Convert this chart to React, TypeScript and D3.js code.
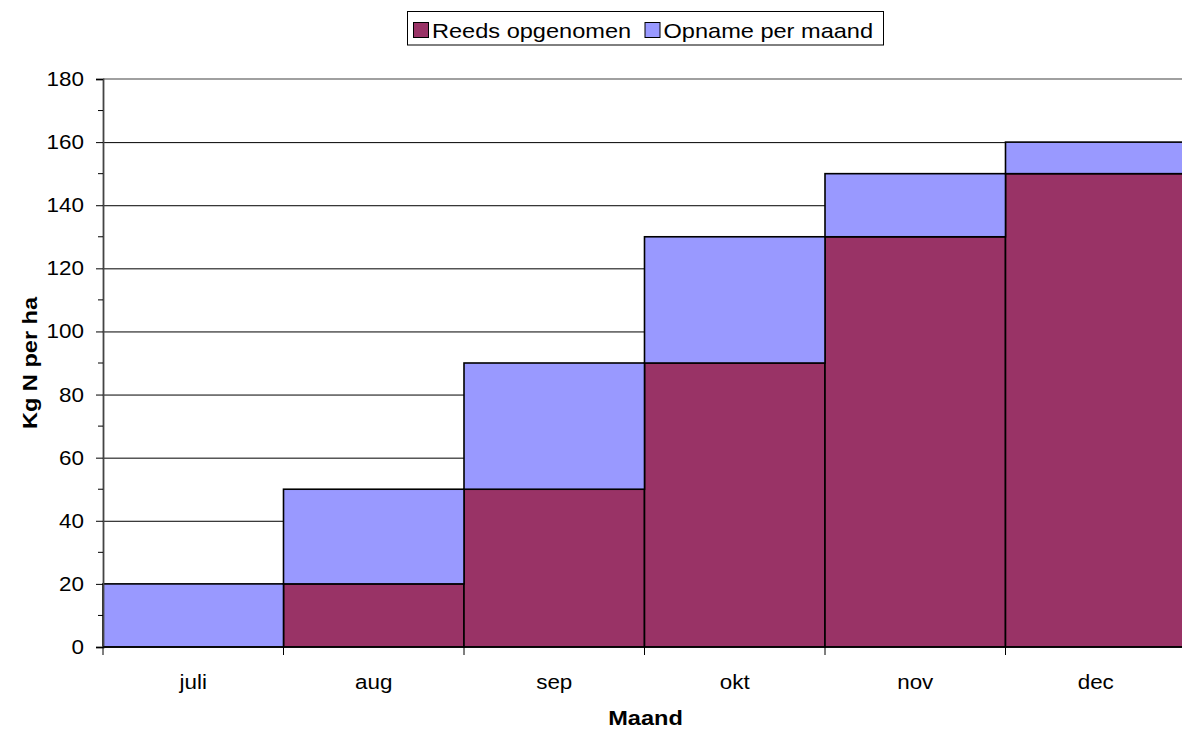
import * as d3 from "d3";
import { useRef, useEffect } from "react";

const months: string[] = ["juli", "aug", "sep", "okt", "nov", "dec"];
const reedsOpgenomen: number[] = [0, 20, 50, 90, 130, 150];
const opnamePerMaand: number[] = [20, 30, 40, 40, 20, 10];
const seriesNames: string[] = ["Reeds opgenomen", "Opname per maand"];
const yTicks: number[] = [0, 20, 40, 60, 80, 100, 120, 140, 160, 180];
const yMinorTicks: number[] = [10, 30, 50, 70, 90, 110, 130, 150, 170];
const colors: string[] = ["#993366", "#9999FF"];

export default function App() {
  const svgRef: any = useRef();

  useEffect(() => {
    const w = 1182;
    const h = 731;
    const left = 103;
    const right = 1186;
    const top = 79;
    const bottom = 647;
    const font = "'Liberation Sans', Arial, sans-serif";
    const sx = 1.15; // text looks stretched horizontally in the original

    const svg = d3.select(svgRef.current);
    svg.selectAll("*").remove();
    svg.attr("width", w).attr("height", h).style("background", "#fff");

    const x = d3.scaleBand().domain(months).range([left, right]).padding(0);
    const y = d3.scaleLinear().domain([0, 180]).range([bottom, top]);

    const label = (px: number, py: number, txt: string, size: number, anchor: string, extra = "") =>
      svg
        .append("text")
        .attr("transform", `translate(${px},${py}) ${extra} scale(${sx},1)`)
        .attr("text-anchor", anchor)
        .style("font-family", font)
        .style("font-size", size + "px")
        .attr("fill", "#000")
        .text(txt);

    // gridlines
    svg
      .append("g")
      .selectAll("line")
      .data(yTicks.filter((t) => t > 0 && t < 180))
      .join("line")
      .attr("x1", left)
      .attr("x2", right)
      .attr("y1", (d) => y(d) + 0.5)
      .attr("y2", (d) => y(d) + 0.5)
      .attr("stroke", "#000")
      .attr("stroke-width", 1);

    // plot area top border
    svg
      .append("line")
      .attr("x1", left)
      .attr("x2", right)
      .attr("y1", top)
      .attr("y2", top)
      .attr("stroke", "#808080")
      .attr("stroke-width", 1.5);

    // stacked bars
    const rows = months.map((m, i) => ({ month: m, a: reedsOpgenomen[i], b: opnamePerMaand[i] }));
    const stack = d3.stack<any>().keys(["a", "b"])(rows);

    svg
      .append("g")
      .selectAll("g")
      .data(stack)
      .join("g")
      .attr("fill", (_d, i) => colors[i])
      .selectAll("rect")
      .data((d) => d.filter((s) => s[1] - s[0] > 0))
      .join("rect")
      .attr("x", (d: any) => x(d.data.month)!)
      .attr("y", (d) => y(d[1]))
      .attr("width", x.bandwidth())
      .attr("height", (d) => y(d[0]) - y(d[1]))
      .attr("stroke", "#000")
      .attr("stroke-width", 1.6);

    // y axis
    const yAxis = d3.axisLeft(y).tickValues(yTicks).tickSize(7).tickFormat(() => "");
    const gy = svg.append("g").attr("transform", `translate(${left},0)`).call(yAxis);
    gy.select(".domain").attr("stroke", "#444").attr("stroke-width", 1.8);
    gy.selectAll(".tick line").attr("stroke", "#000");
    svg
      .append("g")
      .selectAll("line")
      .data(yMinorTicks)
      .join("line")
      .attr("x1", left - 5)
      .attr("x2", left)
      .attr("y1", (d) => y(d))
      .attr("y2", (d) => y(d))
      .attr("stroke", "#000");
    yTicks.forEach((t) => label(84, y(t) + 7, String(t), 19.5, "end"));

    // x axis
    svg
      .append("line")
      .attr("x1", left)
      .attr("x2", right)
      .attr("y1", bottom)
      .attr("y2", bottom)
      .attr("stroke", "#000")
      .attr("stroke-width", 1.6);
    const boundaries = months.map((m) => x(m)!).concat([right]);
    svg
      .append("g")
      .selectAll("line")
      .data(boundaries)
      .join("line")
      .attr("x1", (d) => d)
      .attr("x2", (d) => d)
      .attr("y1", bottom)
      .attr("y2", bottom + 8)
      .attr("stroke", "#000");
    months.forEach((m) => label(x(m)! + x.bandwidth() / 2, 689, m, 19.5, "middle"));

    // axis titles
    label((left + right) / 2 + 1, 725, "Maand", 20.5, "middle").style("font-weight", "bold");
    label(37, (top + bottom) / 2, "Kg N per ha", 20.5, "middle", "rotate(-90)").style("font-weight", "bold");

    // legend
    svg
      .append("rect")
      .attr("x", 407.5)
      .attr("y", 11.5)
      .attr("width", 476)
      .attr("height", 33.5)
      .attr("fill", "#fff")
      .attr("stroke", "#000");
    const legendX = [413.5, 645];
    seriesNames.forEach((name, i) => {
      svg
        .append("rect")
        .attr("x", legendX[i])
        .attr("y", 22.5)
        .attr("width", 15)
        .attr("height", 15)
        .attr("fill", colors[i])
        .attr("stroke", "#000");
      label(legendX[i] + 18.5, 37.5, name, 20.5, "start");
    });
  }, []);

  return (
    <div style={{ position: "fixed", left: 0, top: 0 }}>
      <svg ref={svgRef} style={{ display: "block" }}></svg>
    </div>
  );
}
